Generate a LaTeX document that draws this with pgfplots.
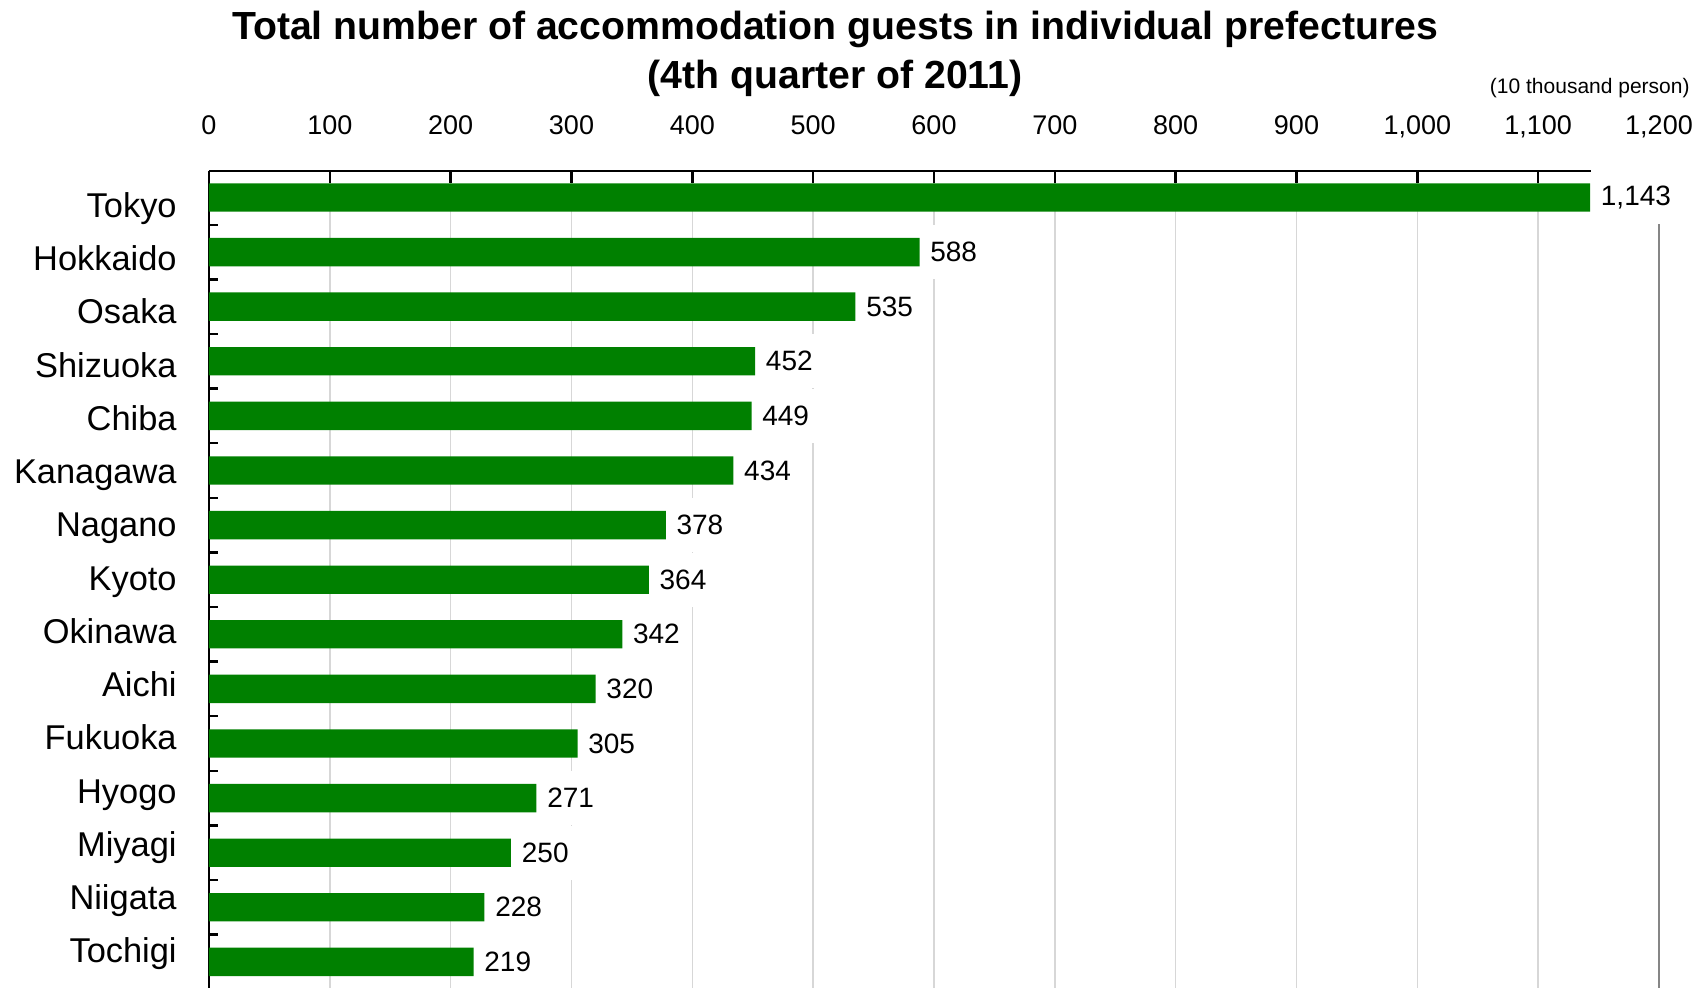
\documentclass[border=0pt]{standalone}
\usepackage{fontspec}
\setmainfont{Liberation Sans}
\usepackage{pgfplots}
\pgfplotsset{compat=1.18}
\definecolor{bargreen}{RGB}{0,128,0}
\definecolor{gridgray}{RGB}{215,215,215}
\definecolor{edgegray}{RGB}{134,134,134}
\begin{document}
\begin{tikzpicture}
\begin{axis}[
  scale only axis,
  width=725pt, height=408.5pt,
  xbar, bar width=0.52, bar shift=0pt,
  y dir=reverse,
  xmin=0, xmax=1200,
  ymin=-0.4853, ymax=14.478,
  clip=false,
  axis x line*=top,
  axis y line*=left,
  axis line style={line width=1.2pt, black, -},
  tick align=inside,
  xtick={0,100,...,1200},
  scaled x ticks=false,
  major tick length=6pt,
  minor tick length=4.4pt,
  xmajorgrids,
  major grid style={gridgray, line width=0.8pt},
  every tick/.style={black, line width=1.2pt},
  every major y tick/.style={draw=none},
  ytick={0.3626,1.3381,2.3135,3.2890,4.2644,5.2399,6.2154,7.1908,8.1663,9.1417,10.1172,11.0926,12.0681,13.0436,14.0190},
  yticklabels={Tokyo,Hokkaido,Osaka,Shizuoka,Chiba,Kanagawa,Nagano,Kyoto,Okinawa,Aichi,Fukuoka,Hyogo,Miyagi,Niigata,Tochigi},
  minor ytick={-0.4853,0.5,1.5,2.5,3.5,4.5,5.5,6.5,7.5,8.5,9.5,10.5,11.5,12.5,13.5},
  yticklabel style={anchor=base east, inner sep=0pt, xshift=-16pt, font=\fontsize{17.2}{20}\selectfont},
  xticklabel style={anchor=base, inner sep=0pt, yshift=18pt, font=\fontsize{13.5}{16}\selectfont},
  extra x ticks={1200},
  extra x tick labels={},
  extra x tick style={grid=major, major grid style={edgegray, line width=1.3pt}, tick style={draw=none}},
  /pgf/number format/1000 sep={,},
  /pgf/number format/assume math mode=true,
  nodes near coords,
  nodes near coords style={font=\fontsize{14}{16}\selectfont, anchor=west, fill=white, inner xsep=5.2pt, inner ysep=0pt, minimum height=27pt, text=black},
]
\addplot[fill=bargreen, draw=none] coordinates {
  (1143,0) (588,1) (535,2) (452,3) (449,4) (434,5) (378,6) (364,7)
  (342,8) (320,9) (305,10) (271,11) (250,12) (228,13) (219,14)
};
\coordinate (TL) at (axis cs:0,-0.4853);
\coordinate (TR) at (axis cs:1200,-0.4853);
\coordinate (BL) at (axis cs:0,14.478);
\end{axis}
\node[anchor=base, font=\bfseries\fontsize{19.6}{22}\selectfont, inner sep=0pt] at ([xshift=313pt, yshift=65.85pt]TL) {Total number of accommodation guests in individual prefectures};
\node[anchor=base, font=\bfseries\fontsize{19.6}{22}\selectfont, inner sep=0pt] at ([xshift=313pt, yshift=41.35pt]TL) {(4th quarter of 2011)};
\node[anchor=base east, font=\fontsize{10.5}{12}\selectfont, inner sep=0pt] at ([xshift=15.5pt, yshift=38.8pt]TR) {(10 thousand person)};
\path[use as bounding box] ([xshift=-104.5pt]BL) rectangle ++(847pt,494pt);
\end{tikzpicture}
\end{document}
